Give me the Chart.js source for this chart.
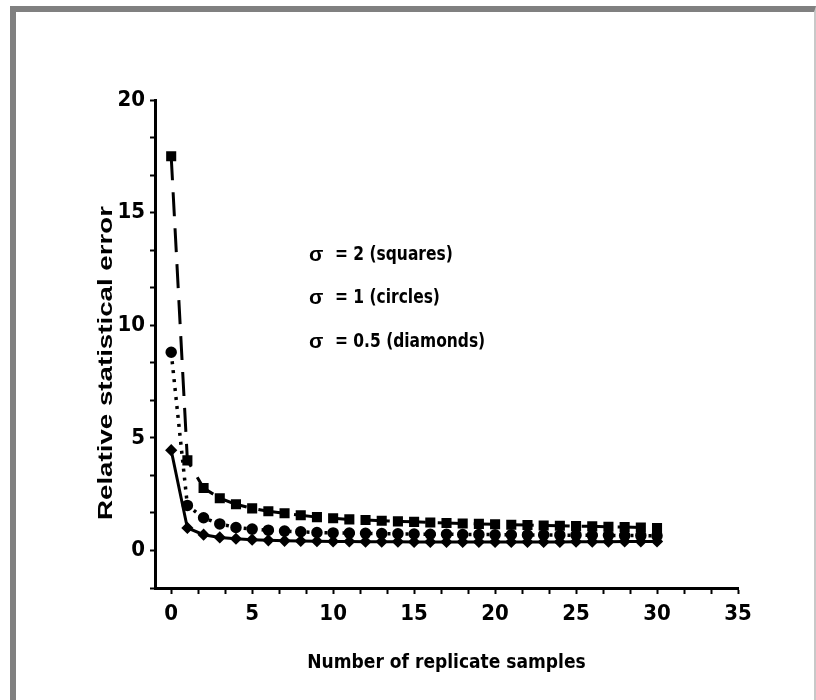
<!DOCTYPE html>
<html lang="en">
<head>
    <meta charset="UTF-8">
    <title>Relative statistical error vs replicate samples</title>
    <script src="https://cdn.jsdelivr.net/npm/chart.js"></script>
    <style>
        body { margin: 0; background: #fff; }
        #frame {
            position: absolute; left: 10px; top: 6px; width: 798px; height: 700px;
            border-left: 6px solid #808080; border-top: 6px solid #808080; border-right: 2px solid #c8c8c8;
        }
        #wrap { position: absolute; left: 0; top: 0; width: 816px; height: 700px; }
    </style>
</head>
<body>
    <div id="frame"></div>
    <div id="wrap"><canvas id="chart" width="816" height="700"></canvas></div>

    <script>
        const NARROW = "'DejaVu Sans Condensed', 'Liberation Sans Narrow', 'Liberation Sans', sans-serif";
        const WIDE = "'Liberation Sans', Arial, sans-serif";

        // data
        const samples = [0, 1, 2, 3, 4, 5, 6, 7, 8, 9, 10, 11, 12, 13, 14, 15, 16, 17, 18, 19, 20, 21, 22, 23, 24, 25, 26, 27, 28, 29, 30];
        const sigma2 = [17.5, 4.0, 2.77, 2.32, 2.05, 1.87, 1.74, 1.65, 1.56, 1.48, 1.43, 1.38, 1.35, 1.32, 1.29, 1.27, 1.24, 1.22, 1.2, 1.18, 1.16, 1.14, 1.13, 1.11, 1.1, 1.08, 1.07, 1.05, 1.04, 1.02, 1.0];
        const sigma1 = [8.8, 2.0, 1.45, 1.18, 1.02, 0.95, 0.9, 0.86, 0.83, 0.8, 0.78, 0.77, 0.76, 0.75, 0.74, 0.73, 0.72, 0.72, 0.71, 0.71, 0.7, 0.7, 0.69, 0.69, 0.68, 0.68, 0.67, 0.67, 0.66, 0.66, 0.65];
        const sigma05 = [4.45, 1.0, 0.7, 0.58, 0.52, 0.48, 0.45, 0.43, 0.42, 0.41, 0.4, 0.4, 0.39, 0.39, 0.39, 0.38, 0.38, 0.38, 0.38, 0.38, 0.38, 0.38, 0.38, 0.38, 0.38, 0.39, 0.39, 0.39, 0.4, 0.4, 0.4];

        const xMajor = [0, 5, 10, 15, 20, 25, 30, 35];
        const yMajor = [0, 5, 10, 15, 20];
        const legendLines = ['= 2 (squares)', '= 1 (circles)', '= 0.5 (diamonds)'];

        // 3 tick intervals between labelled values, like the original axes
        function withMinor(major, before) {
            const out = [];
            const step = (major[1] - major[0]) / 3;
            for (let k = before; k > 0; k--) out.push(major[0] - k * step);
            major.forEach((v, i) => {
                out.push(v);
                if (i < major.length - 1) { out.push(v + step); out.push(v + 2 * step); }
            });
            return out;
        }
        const xTicks = withMinor(xMajor, 0);
        const yTicks = withMinor(yMajor, 1);

        const pts = arr => samples.map((x, i) => ({ x: x, y: arr[i] }));

        // legend text + rotated y title
        const annotations = {
            id: 'annotations',
            afterDraw(chart) {
                const ctx = chart.ctx;
                ctx.save();
                ctx.fillStyle = '#000';
                ctx.textBaseline = 'middle';
                const ys = [255, 298, 342];
                legendLines.forEach((t, i) => {
                    ctx.font = 'bold 21px ' + WIDE;
                    ctx.fillText('\u03c3', 309, ys[i]);
                    // squeeze the condensed face a bit more, as in the scan
                    ctx.save();
                    ctx.font = 'bold 20px ' + NARROW;
                    ctx.translate(335, ys[i]);
                    ctx.scale(0.86, 1);
                    ctx.fillText(t, 0, 0);
                    ctx.restore();
                });
                // y title, stretched to the length it has in the original
                const title = 'Relative statistical error';
                ctx.font = 'bold 20px ' + WIDE;
                const w = ctx.measureText(title).width;
                ctx.translate(106, 363);
                ctx.rotate(-Math.PI / 2);
                ctx.scale(314 / w, 1);
                ctx.textAlign = 'center';
                ctx.fillText(title, 0, 0);
                ctx.restore();
            }
        };

        new Chart(document.getElementById('chart'), {
            type: 'scatter',
            data: {
                datasets: [
                    {
                        label: 'sigma = 2', data: pts(sigma2), showLine: true,
                        borderColor: '#000', backgroundColor: '#000', borderWidth: 3, borderDash: [24, 12],
                        pointStyle: 'rect', pointRadius: 5
                    },
                    {
                        label: 'sigma = 1', data: pts(sigma1), showLine: true,
                        borderColor: '#000', backgroundColor: '#000', borderWidth: 3.5, borderDash: [3, 6],
                        pointStyle: 'circle', pointRadius: 4
                    },
                    {
                        label: 'sigma = 0.5', data: pts(sigma05), showLine: true,
                        borderColor: '#000', backgroundColor: '#000', borderWidth: 3,
                        pointStyle: 'rectRot', pointRadius: 4
                    }
                ]
            },
            options: {
                responsive: false,
                animation: false,
                layout: { padding: { top: 100, right: 78, left: 0, bottom: 0 } },
                plugins: { legend: { display: false }, tooltip: { enabled: false } },
                scales: {
                    x: {
                        type: 'linear', min: -1, max: 35,
                        afterBuildTicks: s => { s.ticks = xTicks.map(v => ({ value: v })); },
                        afterFit: s => { s.height = 112; },
                        border: { display: true, color: '#000', width: 3 },
                        grid: { drawOnChartArea: false, color: '#000', tickLength: 6, tickWidth: 2 },
                        ticks: {
                            color: '#000', padding: 7, maxRotation: 0, autoSkip: false,
                            font: { family: NARROW, size: 22, weight: 'bold' },
                            callback: v => (xMajor.includes(Math.round(v * 1000) / 1000) ? String(Math.round(v)) : '')
                        },
                        title: {
                            display: true, text: 'Number of replicate samples', color: '#000',
                            font: { family: NARROW, size: 19, weight: 'bold' }, padding: { top: 4, bottom: 26 }
                        }
                    },
                    y: {
                        type: 'linear', min: -5 / 3, max: 20,
                        afterBuildTicks: s => { s.ticks = yTicks.map(v => ({ value: v })); },
                        afterFit: s => { s.width = 155; },
                        border: { display: true, color: '#000', width: 3 },
                        grid: { drawOnChartArea: false, color: '#000', tickLength: 5, tickWidth: 2 },
                        ticks: {
                            color: '#000', padding: 5, autoSkip: false,
                            font: { family: NARROW, size: 22, weight: 'bold' },
                            callback: v => (yMajor.includes(Math.round(v * 1000) / 1000) ? String(Math.round(v)) : '')
                        }
                    }
                }
            },
            plugins: [annotations]
        });
    </script>
</body>
</html>
